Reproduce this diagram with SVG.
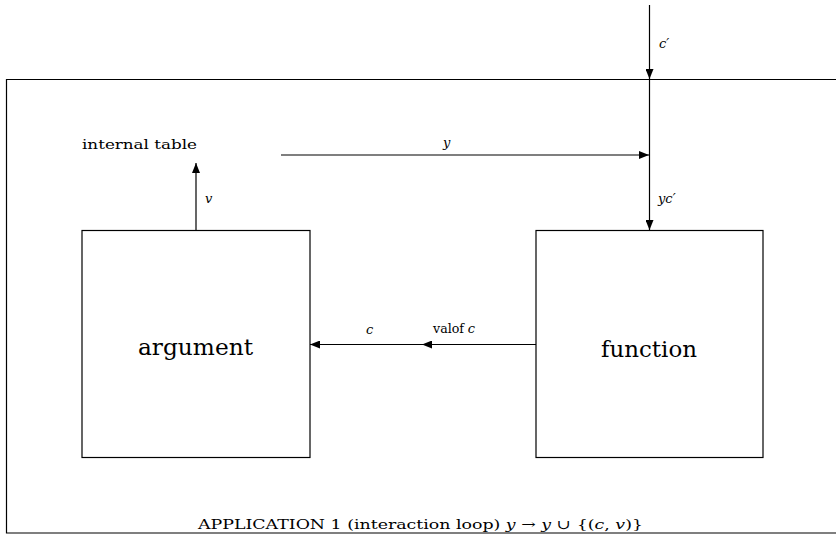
<svg xmlns="http://www.w3.org/2000/svg" width="836" height="537" viewBox="0 0 836 537">
<style>
text{font-family:"DejaVu Serif","Liberation Serif",serif;fill:#000}
.lbl{font-size:13px;font-style:italic}
.sm{font-size:13px}
.big{font-size:22px}
.ln{stroke:#000;stroke-width:1.2;fill:none}
.box{stroke:#000;stroke-width:1.2;fill:#fff}
</style>
<defs>
<marker id="ah" viewBox="0 0 10 8" refX="10" refY="4" markerWidth="10" markerHeight="8" markerUnits="userSpaceOnUse" orient="auto">
<path d="M0,0 L10,4 L0,8 Z" fill="#000"/>
</marker>
</defs>
<rect width="836" height="537" fill="#fff"/>
<g id="outer">
<path class="ln" d="M840,79.5 H6.5 V533 H840"/>
<text x="198" y="529" class="sm" textLength="445" lengthAdjust="spacingAndGlyphs">APPLICATION 1 (interaction loop) <tspan font-style="italic">y</tspan> → <tspan font-style="italic">y</tspan> ∪ {(<tspan font-style="italic">c</tspan>, <tspan font-style="italic">v</tspan>)}</text>
</g>
<g id="internal-table">
<text x="82" y="149" class="sm" textLength="115" lengthAdjust="spacingAndGlyphs">internal table</text>
</g>
<g id="argument">
<rect class="box" x="82" y="230.5" width="228" height="227"/>
<text x="138" y="355" class="big" textLength="115" lengthAdjust="spacingAndGlyphs">argument</text>
</g>
<g id="function">
<rect class="box" x="536" y="230.5" width="227" height="227"/>
<text x="601" y="357" class="big" textLength="96" lengthAdjust="spacingAndGlyphs">function</text>
</g>
<g id="connectors">
<line class="ln" x1="649.5" y1="5" x2="649.5" y2="79" marker-end="url(#ah)"/>
<line class="ln" x1="649.5" y1="79" x2="649.5" y2="230" marker-end="url(#ah)"/>
<line class="ln" x1="281" y1="155" x2="649" y2="155" marker-end="url(#ah)"/>
<line class="ln" x1="196" y1="230" x2="196" y2="163" marker-end="url(#ah)"/>
<line class="ln" x1="536" y1="344.5" x2="422" y2="344.5" marker-end="url(#ah)"/>
<line class="ln" x1="422" y1="344.5" x2="310" y2="344.5" marker-end="url(#ah)"/>
<text x="659" y="48" class="lbl">c′</text>
<text x="443" y="147" class="lbl">y</text>
<text x="658" y="203" class="lbl">yc′</text>
<text x="205" y="203" class="lbl">v</text>
<text x="366" y="334" class="lbl">c</text>
<text x="433" y="333" class="sm" textLength="31" lengthAdjust="spacingAndGlyphs">valof</text>
<text x="475" y="333" class="lbl" text-anchor="end">c</text>
</g>
</svg>
